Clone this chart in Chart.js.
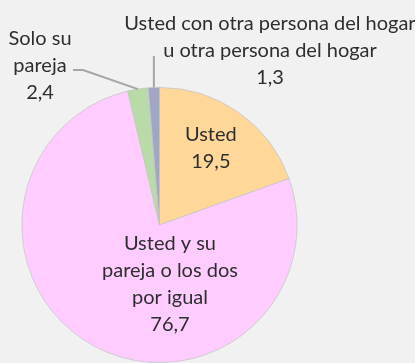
<!DOCTYPE html>
<html>
<head>
<meta charset="utf-8">
<script src="https://cdn.jsdelivr.net/npm/chart.js@4"></script>
<style>
  html, body { margin: 0; padding: 0; background: #f1f1f1; }
  #wrap { width: 415px; height: 363px; overflow: hidden; }
</style>
</head>
<body>
<div id="wrap"><canvas id="torta" width="415" height="363"></canvas></div>
<script>
// categorías y porcentajes
const categorias = [
  'Usted',
  'Usted y su pareja o los dos por igual',
  'Solo su pareja',
  'Usted con otra persona del hogar u otra persona del hogar'
];
const valores = [19.5, 76.7, 2.4, 1.3];
// texto de cada etiqueta, partido en líneas
const lineasEtiqueta = [
  ['Usted'],
  ['Usted y su', 'pareja o los dos', 'por igual'],
  ['Solo su', 'pareja'],
  ['Usted con otra persona del hogar', 'u otra persona del hogar']
];
const colores = ['#ffd899', '#ffccff', '#b8dba8', '#a0a6c6'];

// dónde va cada etiqueta: dentro (relativo al centro, en radios) o fuera con línea guía
const posEtiquetas = [
  { dx: 0.373, dy: -0.56 },
  { dx: 0.076, dy: 0.43 },
  { x: 40, y: 66, guia: [[83, 70], [73, 70]] },
  { x: 270, y: 51, guia: [[null, 56]] }
];

const fmt = v => v.toFixed(1).replace('.', ',');
const ALTO_LINEA = 27;

const etiquetasTorta = {
  id: 'etiquetasTorta',
  afterDatasetsDraw(chart) {
    const ctx = chart.ctx;
    const arcos = chart.getDatasetMeta(0).data;
    ctx.save();
    ctx.font = '20px Lato, "Open Sans", sans-serif';
    ctx.fillStyle = '#2e2e2e';
    ctx.textAlign = 'center';
    ctx.textBaseline = 'middle';
    arcos.forEach((arc, i) => {
      const p = arc.getProps(['x', 'y', 'startAngle', 'endAngle', 'outerRadius'], true);
      const pos = posEtiquetas[i];
      const lineas = lineasEtiqueta[i].concat([fmt(valores[i])]);
      let cx, cy;
      if (pos.guia) {
        const medio = (p.startAngle + p.endAngle) / 2;
        const x0 = p.x + Math.cos(medio) * p.outerRadius;
        const y0 = p.y + Math.sin(medio) * p.outerRadius;
        ctx.save();
        ctx.strokeStyle = '#a6a6a6';
        ctx.lineWidth = 2;
        ctx.beginPath();
        ctx.moveTo(x0, y0);
        pos.guia.forEach(([gx, gy]) => ctx.lineTo(gx === null ? x0 : gx, gy));
        ctx.stroke();
        ctx.restore();
        cx = pos.x; cy = pos.y;
      } else {
        cx = p.x + pos.dx * p.outerRadius;
        cy = p.y + pos.dy * p.outerRadius;
      }
      const y1 = cy - (lineas.length - 1) / 2 * ALTO_LINEA;
      lineas.forEach((t, k) => ctx.fillText(t, cx, y1 + k * ALTO_LINEA));
    });
    ctx.restore();
  }
};

new Chart(document.getElementById('torta'), {
  type: 'pie',
  data: {
    labels: categorias,
    datasets: [{
      data: valores,
      backgroundColor: colores,
      borderColor: '#c4c4c4',
      borderWidth: 0.75
    }]
  },
  options: {
    responsive: false,
    animation: false,
    layout: { padding: { left: 21, right: 117, top: 87, bottom: 0 } },
    plugins: {
      legend: { display: false },
      tooltip: { enabled: false }
    }
  },
  plugins: [etiquetasTorta]
});
</script>
</body>
</html>
